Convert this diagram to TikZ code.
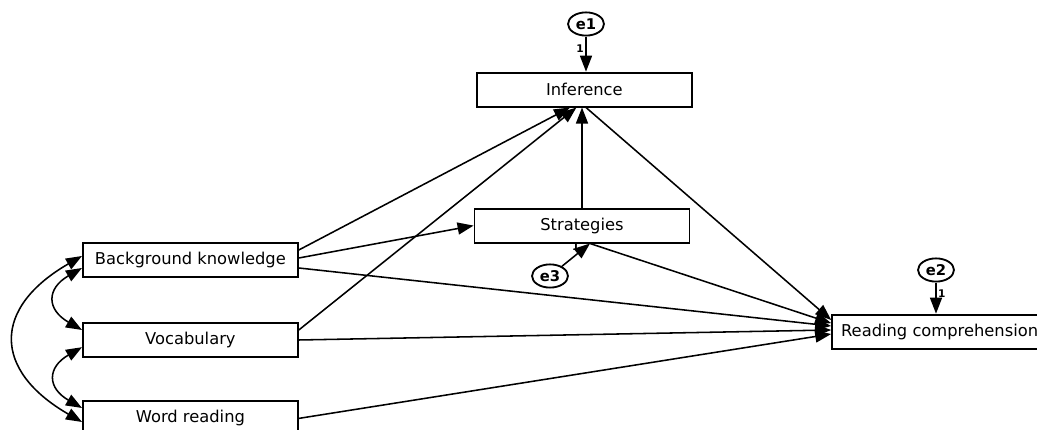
\documentclass[tikz,border=0pt]{standalone}
\usepackage{fontspec}
\setmainfont{DejaVu Sans}
\usetikzlibrary{arrows.meta,shapes.geometric}

\tikzstyle{measure}=[draw,line width=1.3pt,minimum width=5.375cm,minimum height=0.85cm,inner sep=0pt,font=\fontsize{11.6}{14}\selectfont]
\tikzstyle{errterm}=[draw,ellipse,line width=1.3pt,minimum width=0.9cm,minimum height=0.58cm,inner sep=0pt,font=\fontsize{10.5}{12}\selectfont\bfseries]
\tikzstyle{path edge} = [draw,line width=1.1pt,-{Triangle[length=0.4cm,width=0.3cm]}]
\tikzstyle{cov edge} = [draw,line width=1.1pt,{Triangle[length=0.4cm,width=0.3cm]}-{Triangle[length=0.4cm,width=0.3cm]}]
\tikzstyle{weight}=[font=\fontsize{7.5}{9}\selectfont\bfseries,inner sep=1pt]

\begin{document}
\begin{tikzpicture}
			\useasboundingbox (0,0) rectangle (25.925,10.75);
			\node[measure] (inf) at (14.61,8.51) {Inference};
			\node[measure] (str) at (14.55,5.11) {Strategies};
			\node[measure] (bk) at (4.76,4.24) {Background knowledge};
			\node[measure] (voc) at (4.76,2.25) {Vocabulary};
			\node[measure] (wr) at (4.76,0.29) {Word reading};
			\node[measure] (rc) at (23.49,2.46) {Reading comprehension};
			\node[errterm] (e1) at (14.65,10.15) {e1};
			\node[errterm] (e2) at (23.4,4.0) {e2};
			\node[errterm] (e3) at (13.75,3.85) {e3};
			% Error terms with fixed weights
			\path[path edge] (e1) -- node[weight,pos=0.35,left] {1} (e1 |- inf.north);
			\path[path edge] (e2) -- node[weight,pos=0.35,right] {1} (e2 |- rc.north);
			\path[path edge] (e3) -- ([xshift=0.2cm]str.south) node[weight,pos=0.85,left=3pt] {1};
			% Paths into Inference
			\path[path edge] ([yshift=0.26cm]bk.east) -- ([xshift=-0.36cm]inf.south);
			\path[path edge] ([yshift=0.25cm]voc.east) -- ([xshift=-0.2cm]inf.south);
			\path[path edge] (str.north) -- (str.north |- inf.south);
			\path[path edge] ([yshift=0.06cm]bk.east) -- (str.west);
			% Paths into Reading comprehension
			\path[path edge] ([xshift=0.04cm]inf.south) -- ([yshift=0.29cm]rc.west);
			\path[path edge] ([xshift=0.2cm]str.south) -- ([yshift=0.21cm]rc.west);
			\foreach \source/\off/\dest in {bk/-0.19/0.14,voc/0/0.04,wr/0/-0.06}
				\path[path edge] ([yshift=\off cm]\source.east) -- ([yshift=\dest cm]rc.west);
			% Covariances between the predictors
			\path[cov edge] ([yshift=-0.19cm]bk.west) to[out=210,in=150,looseness=1.7] ([yshift=0.25cm]voc.west);
			\path[cov edge] ([yshift=-0.18cm]voc.west) to[out=210,in=150,looseness=1.7] ([yshift=0.26cm]wr.west);
			\path[cov edge] ([yshift=0.11cm]bk.west) to[out=210,in=150,looseness=1.6] ([yshift=-0.09cm]wr.west);
\end{tikzpicture}
\end{document}
